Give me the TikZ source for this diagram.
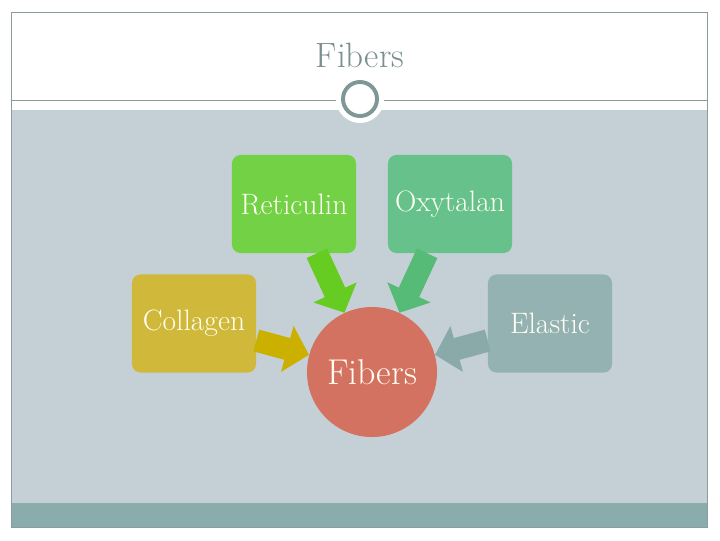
\documentclass[tikz,border=0pt]{standalone}
\usepackage{fontspec}
\usetikzlibrary{arrows.meta}
\definecolor{fond}{HTML}{C5D0D6}
\definecolor{bande}{HTML}{8AACAC}
\definecolor{cadre}{HTML}{8C9C9C}
\definecolor{titre}{HTML}{7B8F8F}
\definecolor{anneau}{HTML}{7F9797}
\definecolor{texte}{HTML}{FFFFF2}
\definecolor{rouge}{HTML}{D47262}
\definecolor{vertA}{HTML}{72D145}
\definecolor{vertAf}{HTML}{66CC22}
\definecolor{vertB}{HTML}{66C28A}
\definecolor{vertBf}{HTML}{55BB77}
\definecolor{jaune}{HTML}{CFB83A}
\definecolor{jaunef}{HTML}{CCB000}
\definecolor{gris}{HTML}{94B2B2}
\definecolor{grisf}{HTML}{8AAAAA}
\begin{document}
\begin{tikzpicture}[x=0.025cm,y=-0.025cm]
	% Styles
	\tikzstyle{fleche}=[-{Triangle[length=16pt,width=33pt]},line width=16pt]
	\tikzstyle{boite}=[rounded corners=6pt,minimum width=3.1cm,minimum height=2.45cm,text=texte,font=\fontsize{21}{24}\selectfont]
	\tikzstyle{rond}=[circle,minimum size=3.25cm,fill=rouge,text=texte,font=\fontsize{25.5}{28}\selectfont]
	\tikzstyle{entete}=[text=titre,font=\fontsize{25}{28}\selectfont]
	% Dimensions
	\def\Gauche{11}
	\def\Droite{707}
	\def\Haut{12}
	\def\Bas{527}
	% Cadre
	\useasboundingbox[fill=white] (0,0) rectangle (720,540);
	\fill[fond] (\Gauche,110) rectangle (\Droite,\Bas);
	\fill[bande] (\Gauche,503) rectangle (\Droite,\Bas);
	\draw[cadre] (\Gauche,\Haut) rectangle (\Droite,\Bas);
	\draw[cadre] (\Gauche,100) -- (\Droite,100);
	\fill[white] (360,99) circle (24);
	\node[circle,draw=anneau,line width=2.8pt,fill=white,minimum size=0.85cm] (O) at (360,99) {};
	\node[entete] (T) at (360,55) {Fibers};
	% Noeuds
	\node[rond] (Fib) at (372,372) {Fibers};
	\node[boite,fill=vertA] (Ret) at (294,204) {Reticulin};
	\node[boite,fill=vertB] (Oxy) at (450,204) {Oxytalan};
	\node[boite,fill=jaune] (Col) at (194,323.5) {Collagen};
	\node[boite,fill=gris] (Ela) at (550,323.5) {Elastic};
	% Arcs
	\draw[fleche,vertAf] (Ret)--(Fib);
	\draw[fleche,vertBf] (Oxy)--(Fib);
	\draw[fleche,jaunef] (Col)--(Fib);
	\draw[fleche,grisf] (Ela)--(Fib);
\end{tikzpicture}
\end{document}
